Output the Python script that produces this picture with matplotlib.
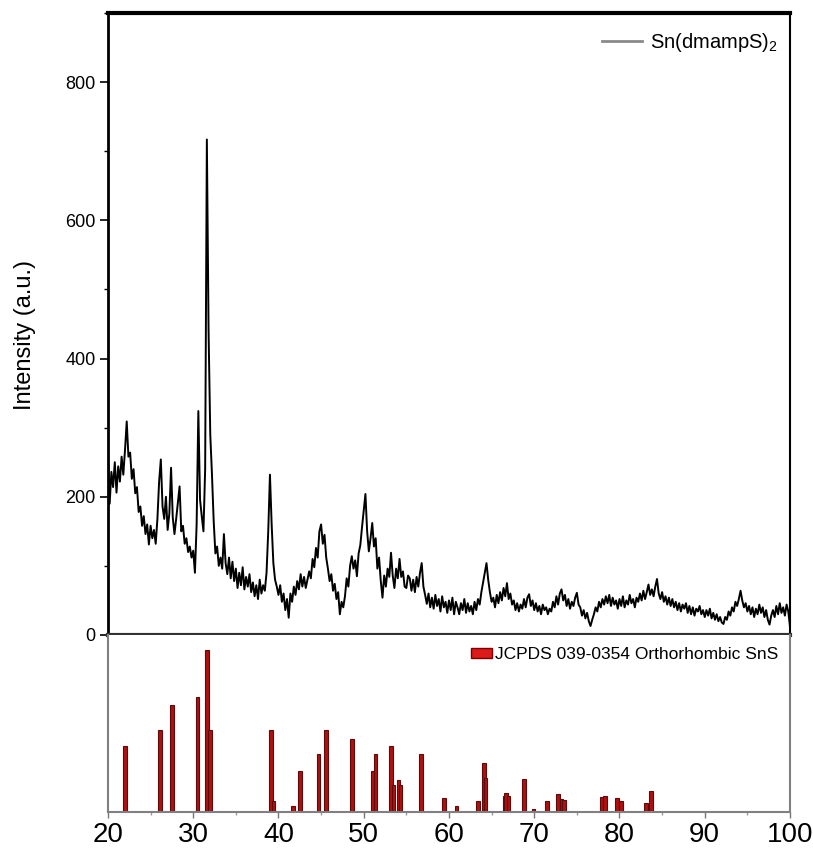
import matplotlib
matplotlib.use("Agg")
import matplotlib.pyplot as plt
import numpy as np
from matplotlib.patches import Patch
from matplotlib.lines import Line2D
from matplotlib.ticker import MultipleLocator

plt.rcParams['font.family'] = ['Liberation Sans', 'DejaVu Sans']

# Measured XRD pattern, 20-100 deg, step 0.2 deg (each row covers 2 deg)
intensity = [
    262, 190, 236, 214, 250, 206, 244, 222, 258, 232,
    268, 309, 258, 264, 226, 240, 205, 214, 178, 186,
    158, 172, 146, 160, 131, 158, 140, 152, 132, 168,
    222, 254, 186, 168, 200, 152, 176, 242, 170, 146,
    168, 192, 215, 150, 158, 132, 140, 120, 128, 112,
    122, 90, 160, 324, 196, 172, 150, 240, 717, 440,
    290, 232, 165, 118, 128, 100, 112, 96, 146, 104,
    88, 112, 82, 106, 78, 96, 68, 90, 72, 98,
    66, 84, 70, 88, 62, 76, 56, 72, 52, 80,
    60, 72, 64, 90, 150, 232, 160, 104, 80, 70,
    58, 72, 48, 60, 36, 52, 25, 60, 48, 70,
    58, 78, 66, 88, 70, 84, 68, 80, 92, 82,
    110, 98, 126, 112, 150, 160, 132, 145, 112, 96,
    78, 88, 64, 74, 52, 62, 30, 48, 40, 56,
    82, 70, 100, 114, 96, 108, 85, 118, 130, 156,
    180, 204, 150, 121, 140, 162, 128, 140, 96, 112,
    78, 54, 86, 70, 96, 84, 119, 86, 68, 96,
    82, 110, 84, 92, 70, 68, 86, 82, 64, 80,
    62, 84, 70, 90, 104, 70, 58, 45, 60, 40,
    54, 38, 58, 42, 52, 34, 56, 40, 48, 32,
    50, 36, 54, 30, 48, 40, 30, 46, 36, 52,
    32, 46, 34, 42, 30, 48, 36, 52, 44, 62,
    76, 90, 104, 80, 62, 48, 54, 40, 58, 46,
    62, 50, 68, 56, 75, 52, 60, 44, 50, 36,
    46, 34, 44, 38, 52, 40, 54, 59, 42, 50,
    36, 46, 34, 42, 30, 44, 36, 40, 30, 38,
    34, 48, 40, 56, 44, 60, 66, 50, 58, 42,
    52, 38, 48, 42, 54, 61, 44, 40, 28, 36,
    24, 32, 20, 13, 22, 30, 40, 34, 48, 40,
    52, 44, 56, 46, 58, 42, 54, 44, 50, 38,
    52, 42, 56, 40, 50, 44, 58, 46, 52, 40,
    54, 48, 60, 50, 64, 52, 62, 73, 58, 66,
    56, 70, 81, 60, 52, 62, 48, 56, 44, 54,
    42, 52, 40, 48, 36, 46, 34, 44, 38, 46,
    32, 42, 30, 40, 28, 38, 34, 42, 30, 36,
    26, 36, 28, 38, 24, 32, 22, 30, 20, 26,
    18, 16, 26, 22, 34, 28, 40, 34, 48, 42,
    52, 64, 50, 40, 46, 34, 42, 30, 40, 26,
    38, 30, 44, 32, 40, 26, 36, 22, 15, 28,
    36, 26, 42, 30, 46, 32, 40, 28, 44, 34,
    12,
]
two_theta = np.linspace(20, 100, len(intensity))

# JCPDS 039-0354 reference lines (relative intensity)
ref_pos = [22.0, 26.1, 27.5, 30.5, 31.6, 32.0, 39.1, 39.4, 41.7, 42.5,
           44.7, 45.6, 48.6, 51.1, 51.4, 53.2, 53.5, 54.1, 54.3, 56.7,
           59.4, 60.9, 63.4, 64.1, 64.3, 66.5, 66.7, 67.0, 68.8, 69.9,
           71.5, 72.8, 73.2, 73.5, 77.9, 78.3, 79.7, 80.2, 83.1, 83.7]
ref_int = [40.6, 50.5, 65.6, 70.7, 100, 50.5, 50.5, 6.6, 3.5, 25,
           36, 50.5, 45, 25, 36, 40.6, 16.5, 19.6, 16.5, 36,
           8.9, 4, 7, 30, 21, 10, 12, 10, 20.6, 2,
           6.8, 11.3, 8, 7.6, 9, 9.7, 8.9, 6.8, 5.6, 12.8]

fig = plt.figure(figsize=(8.13, 8.56), dpi=100)
ax1 = fig.add_axes([0.1328, 0.2582, 0.8389, 0.7266])
ax2 = fig.add_axes([0.1328, 0.0514, 0.8389, 0.2068])

# top panel: measured pattern
ax1.plot(two_theta, intensity, color='black', lw=1.4)
ax1.set_xlim(20, 100)
ax1.set_ylim(0, 900)
ax1.yaxis.set_major_locator(MultipleLocator(200))
ax1.yaxis.set_minor_locator(MultipleLocator(100))
ax1.tick_params(axis='y', which='major', direction='out', length=6, width=1.2,
                labelsize=13, pad=3)
ax1.tick_params(axis='y', which='minor', direction='out', length=3, width=1.0)
ax1.tick_params(axis='x', which='both', bottom=False, labelbottom=False)
ax1.spines['top'].set_linewidth(3)
ax1.spines['bottom'].set_linewidth(3)
ax1.spines['bottom'].set_color('#333333')
ax1.spines['left'].set_linewidth(2)
ax1.spines['right'].set_linewidth(1.5)

h1 = Line2D([], [], color='#8a8a8a', lw=2)
ax1.legend([h1], [r'$\mathregular{Sn(dmampS)_2}$'], loc='upper right',
           frameon=False, fontsize=14.5, handlelength=2.0, handletextpad=0.4,
           borderaxespad=0.2, bbox_to_anchor=(1.0, 0.99))

# bottom panel: reference lines
ax2.bar(ref_pos, ref_int, width=0.42, color='#b01010', edgecolor='#5c0a0a',
        linewidth=0.8)
ax2.set_xlim(20, 100)
ax2.set_ylim(0, 109)
ax2.set_yticks([])
ax2.xaxis.set_major_locator(MultipleLocator(10))
ax2.xaxis.set_minor_locator(MultipleLocator(5))
ax2.tick_params(axis='x', which='major', direction='out', length=4, width=1,
                color='#777777', labelsize=20, pad=3)
ax2.tick_params(axis='x', which='minor', direction='out', length=2, width=1,
                color='#999999')
ax2.spines['top'].set_visible(False)
for s in ['left', 'right', 'bottom']:
    ax2.spines[s].set_color('#808080')
    ax2.spines[s].set_linewidth(1.5)

h2 = Patch(facecolor='#dd1a1a', edgecolor='#7a0000')
ax2.legend([h2], ['JCPDS 039-0354 Orthorhombic SnS'], loc='upper right',
           frameon=False, fontsize=12.5, handlelength=1.2, handleheight=0.55,
           handletextpad=0.15, borderaxespad=0.3)

fig.text(0.031, 0.609, 'Intensity (a.u.)', rotation=90, ha='center', va='center',
         fontsize=17)

fig.savefig('out.png', dpi=100)
